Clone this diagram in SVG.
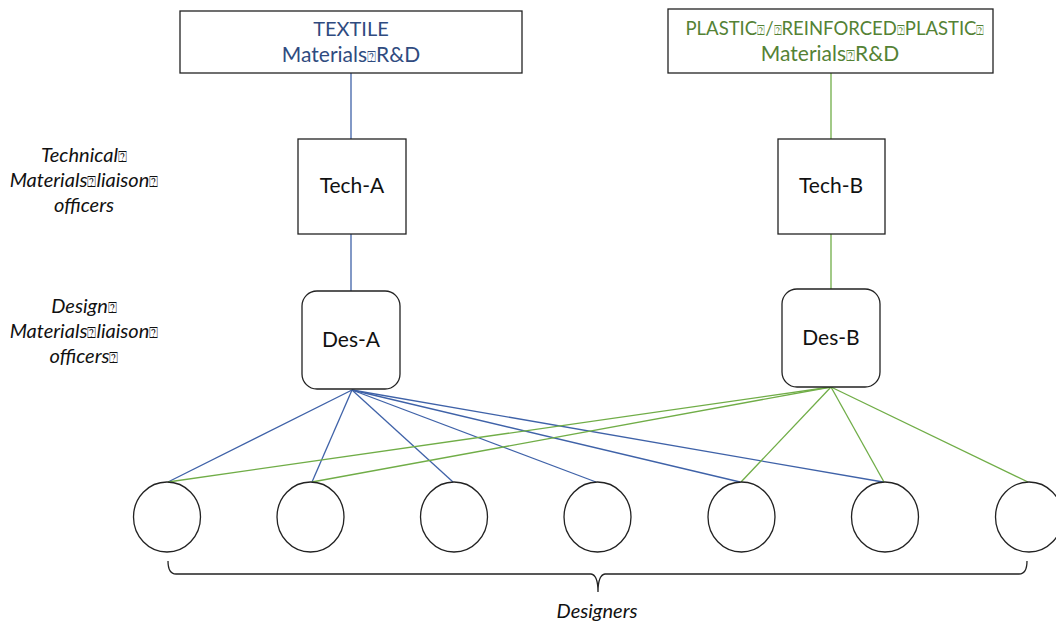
<svg xmlns="http://www.w3.org/2000/svg" width="1056" height="626" viewBox="0 0 1056 626">
<style>
.box{fill:#fff;stroke:#222;stroke-width:1.3}
.t{font-family:Lato,"Open Sans","Liberation Sans",sans-serif;font-size:21px;fill:#111;text-anchor:middle}
.tb{fill:#2F4B80}
.tg{fill:#548235}
.q{font-family:"DejaVu Sans",sans-serif;font-size:15px;font-style:normal}
.q2{font-family:"DejaVu Sans",sans-serif;font-size:13px}
.lab{font-family:Lato,"Open Sans","Liberation Sans",sans-serif;font-size:20px;font-style:italic;fill:#111;text-anchor:middle}
.cb{stroke:#3F62A8;stroke-width:1.3;fill:none}
.cg{stroke:#70AD47;stroke-width:1.3;fill:none}
</style>
<rect width="1056" height="626" fill="#fff"/>
<g id="connectors">
<g class="cb">
<line x1="351" y1="73" x2="351" y2="139"/>
<line x1="351" y1="234" x2="351" y2="291"/>
<line x1="352" y1="390" x2="168" y2="482"/>
<line x1="352" y1="390" x2="312" y2="482"/>
<line x1="352" y1="390" x2="453" y2="482"/>
<line x1="352" y1="390" x2="596" y2="482"/>
<line x1="352" y1="390" x2="740" y2="482"/>
<line x1="352" y1="390" x2="883" y2="482"/>
</g>
<g class="cg">
<line x1="831" y1="73" x2="831" y2="139"/>
<line x1="831" y1="234" x2="831" y2="289"/>
<line x1="831" y1="387" x2="168" y2="482"/>
<line x1="831" y1="387" x2="312" y2="482"/>
<line x1="831" y1="387" x2="741" y2="482"/>
<line x1="831" y1="387" x2="884" y2="482"/>
<line x1="831" y1="387" x2="1028" y2="482"/>
</g>
</g>
<g id="textile">
<rect class="box" x="180" y="11" width="342" height="62"/>
<text class="t tb" x="351" y="36" style="font-size:20px">TEXTILE</text>
<text class="t tb" x="351" y="62">Materials<tspan class="q">⍰</tspan>R&amp;D</text>
</g>
<g id="plastic">
<rect class="box" x="668" y="9" width="325" height="64"/>
<text class="t tg" x="835" y="35" style="font-size:18.5px">PLASTIC<tspan class="q2">⍰</tspan>/<tspan class="q2">⍰</tspan>REINFORCED<tspan class="q2">⍰</tspan>PLASTIC<tspan class="q2">⍰</tspan></text>
<text class="t tg" x="830" y="61">Materials<tspan class="q">⍰</tspan>R&amp;D</text>
</g>
<g id="tech-a">
<rect class="box" x="298" y="139" width="108" height="95"/>
<text class="t" x="352" y="193">Tech-A</text>
</g>
<g id="tech-b">
<rect class="box" x="778" y="139" width="107" height="95"/>
<text class="t" x="831" y="193">Tech-B</text>
</g>
<g id="des-a">
<rect class="box" x="302" y="291" width="98" height="98" rx="15"/>
<text class="t" x="351" y="347">Des-A</text>
</g>
<g id="des-b">
<rect class="box" x="782" y="289" width="98" height="98" rx="15"/>
<text class="t" x="831" y="345">Des-B</text>
</g>
<g id="label-tech">
<text class="lab" x="84" y="162">Technical<tspan class="q">⍰</tspan></text>
<text class="lab" x="84" y="187">Materials<tspan class="q">⍰</tspan>liaison<tspan class="q">⍰</tspan></text>
<text class="lab" x="84" y="212">officers</text>
</g>
<g id="label-des">
<text class="lab" x="84" y="313">Design<tspan class="q">⍰</tspan></text>
<text class="lab" x="84" y="338">Materials<tspan class="q">⍰</tspan>liaison<tspan class="q">⍰</tspan></text>
<text class="lab" x="84" y="363">officers<tspan class="q">⍰</tspan></text>
</g>
<g id="designers">
<ellipse class="box" cx="167" cy="517" rx="33.5" ry="35"/>
<ellipse class="box" cx="310.5" cy="517" rx="33.5" ry="35"/>
<ellipse class="box" cx="454" cy="517" rx="33.5" ry="35"/>
<ellipse class="box" cx="597.5" cy="517" rx="33.5" ry="35"/>
<ellipse class="box" cx="741.5" cy="517" rx="33.5" ry="35"/>
<ellipse class="box" cx="885" cy="517" rx="33.5" ry="35"/>
<ellipse class="box" cx="1029" cy="517" rx="33.5" ry="35"/>
</g>
<g id="brace">
<path d="M168,561 Q168,574 176,574 L591,574 Q598,575 598,592 Q598,575 605,574 L1019,574 Q1027,574 1027,561" fill="none" stroke="#222" stroke-width="1.3"/>
<text class="lab" x="597" y="618">Designers</text>
</g>
</svg>
